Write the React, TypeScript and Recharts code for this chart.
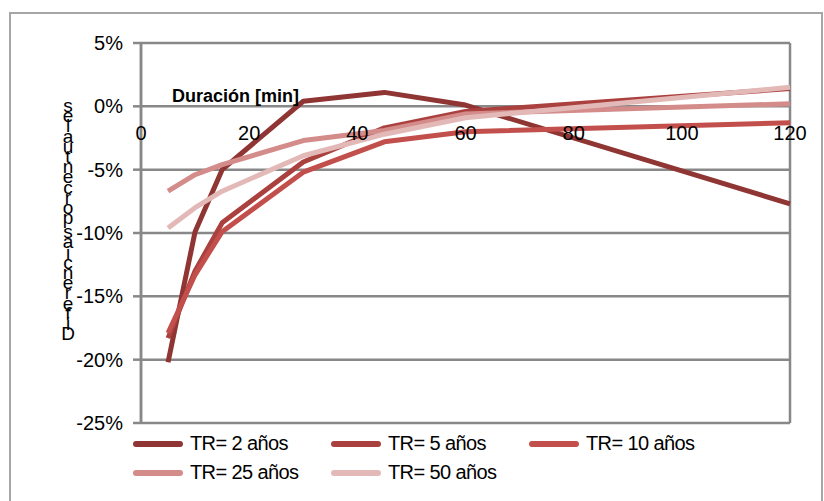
import { LineChart, Line, XAxis, YAxis, CartesianGrid, Legend, ReferenceDot } from 'recharts';

const durations = [5, 10, 15, 30, 45, 60, 120];
const tr2 = [-20.2, -9.9, -5.0, 0.4, 1.1, 0.1, -7.7];
const tr5 = [-18.3, -13.0, -9.2, -4.4, -1.7, -0.4, 1.4];
const tr10 = [-17.9, -13.3, -9.9, -5.2, -2.8, -2.0, -1.3];
const tr25 = [-6.7, -5.4, -4.6, -2.7, -1.9, -0.6, 0.2];
const tr50 = [-9.6, -8.0, -6.7, -3.9, -2.2, -0.9, 1.5];

const xTicks = [0, 20, 40, 60, 80, 100, 120];
const yTicks = [-25, -20, -15, -10, -5, 0, 5];

const seriesNames = ['TR= 2 años', 'TR= 5 años', 'TR= 10 años', 'TR= 25 años', 'TR= 50 años'];
const seriesColors = ['#8f3533', '#aa413f', '#c24f4c', '#d38c8a', '#e3b9b8'];
const seriesValues = [tr2, tr5, tr10, tr25, tr50];

const xTitle = 'Duración [min]';
const yTitle = 'Diferencias porcentuales';

const data = durations.map((d, i) => {
  const row: Record<string, number> = { dur: d };
  seriesValues.forEach((vals, s) => {
    row['s' + s] = vals[i];
  });
  return row;
});

const font = '"Liberation Sans", Arial, sans-serif';

function LegendBox(props: any) {
  // keep the series order, not the alphabetical one
  const items = [...(props.payload || [])].sort(
    (a: any, b: any) => seriesNames.indexOf(a.value) - seriesNames.indexOf(b.value)
  );
  return (
    <div style={{ display: 'grid', gridTemplateColumns: '198px 198px 198px' }}>
      {items.map((it: any) => (
        <div key={it.value} style={{ display: 'flex', alignItems: 'center', height: 29 }}>
          <div style={{ width: 50, height: 6, borderRadius: 3, background: it.color, marginRight: 7 }} />
          <span style={{ fontSize: 20, letterSpacing: -0.6, color: '#000' }}>{it.value}</span>
        </div>
      ))}
    </div>
  );
}

export default function App() {
  const letters = yTitle.split('').reverse();
  return (
    <div style={{ position: 'absolute', left: 0, top: 0, width: 824, height: 501, background: '#fff', fontFamily: font, overflow: 'hidden' }}>
      <div style={{ position: 'absolute', left: 9, top: 12, width: 810, height: 500, border: '2px solid #a6a6a6' }} />
      <LineChart width={824} height={501} data={data} margin={{ top: 43, right: 34, left: 0, bottom: 78 }}>
        <CartesianGrid stroke="#888" strokeWidth={2.5} />
        <XAxis
          dataKey="dur"
          type="number"
          domain={[0, 120]}
          ticks={xTicks}
          tick={false}
          tickLine={false}
          axisLine={false}
          height={0}
        />
        <YAxis
          type="number"
          domain={[-25, 5]}
          ticks={yTicks}
          width={141}
          tickFormatter={(v: number) => `${v}%`}
          tick={{ fill: '#000', fontSize: 20, fontFamily: font }}
          tickSize={8}
          tickMargin={10}
          tickLine={{ stroke: '#888', strokeWidth: 2.5 }}
          axisLine={{ stroke: '#888', strokeWidth: 2.5 }}
        />
        {xTicks.map((t) => (
          <ReferenceDot
            key={t}
            x={t}
            y={0}
            r={0}
            fill="none"
            stroke="none"
            label={{ value: String(t), position: 'bottom', offset: 19, fill: '#000', fontSize: 20, fontFamily: font }}
          />
        ))}
        {seriesNames.map((name, s) => (
          <Line
            key={name}
            dataKey={'s' + s}
            name={name}
            stroke={seriesColors[s]}
            strokeWidth={5}
            dot={false}
            activeDot={false}
            type="linear"
            strokeLinejoin="round"
            isAnimationActive={false}
          />
        ))}
        <Legend
          layout="horizontal"
          verticalAlign="middle"
          align="center"
          content={<LegendBox />}
          wrapperStyle={{ left: 133, top: 429, width: 640, height: 60 }}
        />
      </LineChart>
      <div style={{ position: 'absolute', left: 172, top: 86, fontSize: 18, fontWeight: 'bold', color: '#000', whiteSpace: 'nowrap' }}>
        {xTitle}
      </div>
      <div style={{ position: 'absolute', left: 57, top: 101, width: 22 }}>
        {letters.map((ch, i) => (
          <div key={i} style={{ height: ch === ' ' ? 4 : 10.2, lineHeight: '10.2px', fontSize: 19, textAlign: 'center', color: '#000' }}>
            {ch === ' ' ? '' : ch}
          </div>
        ))}
      </div>
    </div>
  );
}
